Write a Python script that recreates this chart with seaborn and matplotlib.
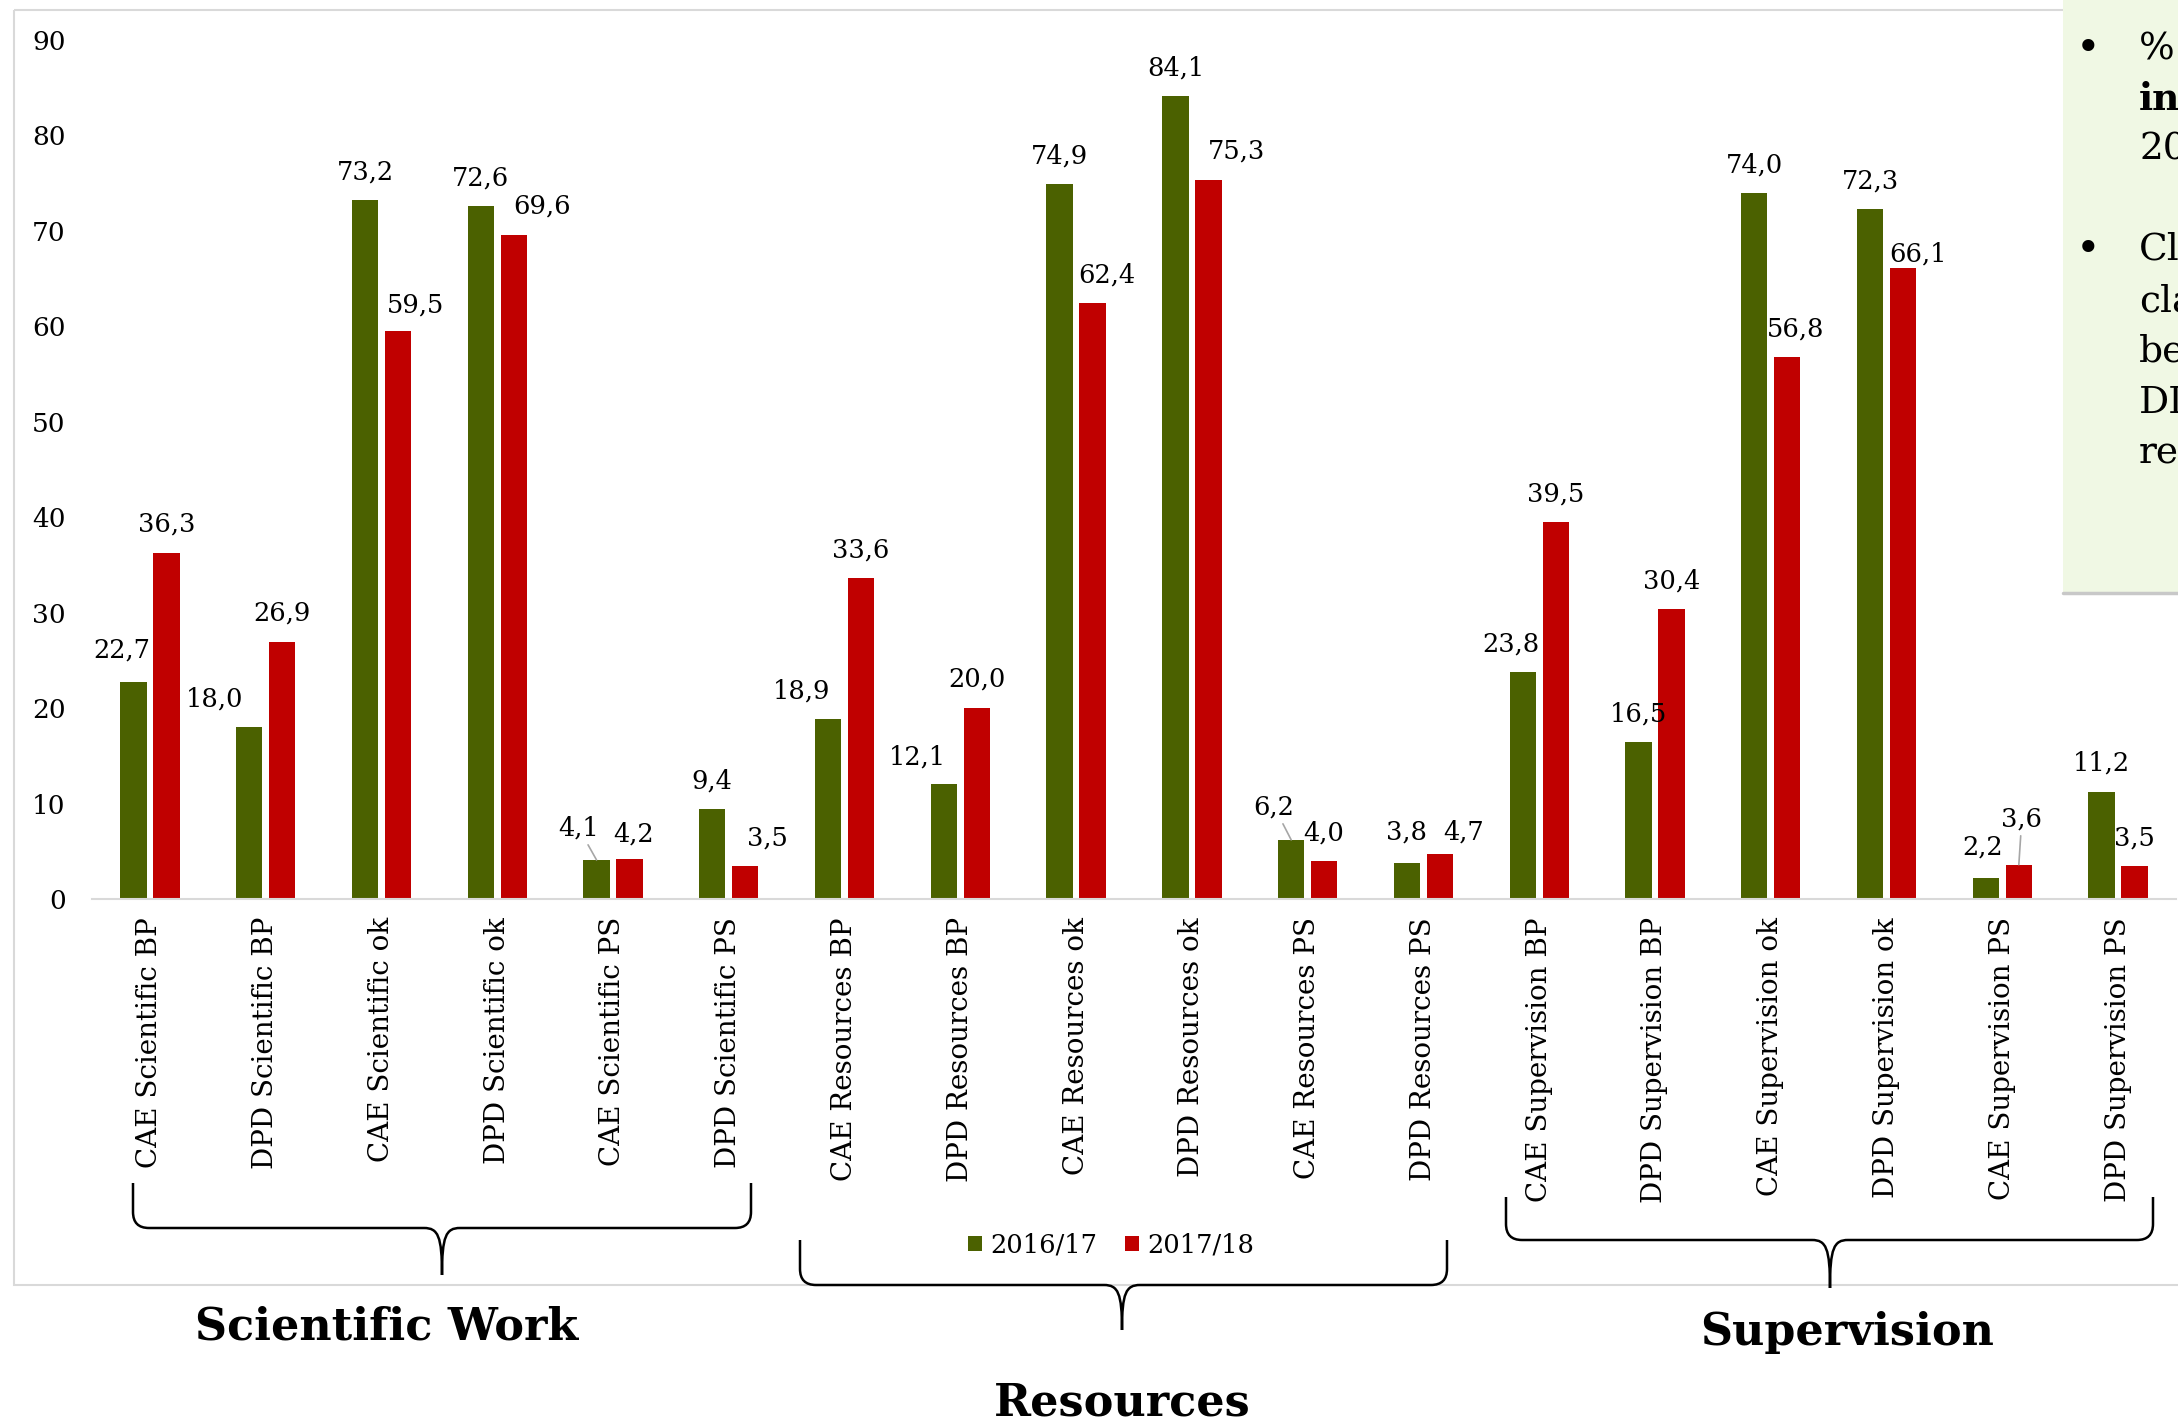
import pandas as pd
import matplotlib.pyplot as plt
import seaborn as sns
from matplotlib.path import Path
from matplotlib.patches import PathPatch, Rectangle

# chart data
categories = ['CAE Scientific BP', 'DPD Scientific BP', 'CAE Scientific ok', 'DPD Scientific ok',
              'CAE Scientific PS', 'DPD Scientific PS', 'CAE Resources BP', 'DPD Resources BP',
              'CAE Resources ok', 'DPD Resources ok', 'CAE Resources PS', 'DPD Resources PS',
              'CAE Supervision BP', 'DPD Supervision BP', 'CAE Supervision ok', 'DPD Supervision ok',
              'CAE Supervision PS', 'DPD Supervision PS']
years = ['2016/17', '2017/18']
vals_1617 = [22.7, 18.0, 73.2, 72.6, 4.1, 9.4, 18.9, 12.1, 74.9, 84.1, 6.2, 3.8,
             23.8, 16.5, 74.0, 72.3, 2.2, 11.2]
vals_1718 = [36.3, 26.9, 59.5, 69.6, 4.2, 3.5, 33.6, 20.0, 62.4, 75.3, 4.0, 4.7,
             39.5, 30.4, 56.8, 66.1, 3.6, 3.5]
groups = ['Scientific Work', 'Resources', 'Supervision']
note_lines = ['%', 'in', '20', 'Cl', 'cla', 'be', 'DI', 're']

# label nudges (pixels), as placed in the original
dx_1617 = [-12, -35, 0, 0, -18, 0, -26, -26, 0, 0, -17, 0, -12, 0, 0, 0, -3, 0]
dy_1617 = [32, 28, 28, 28, 32, 28, 28, 26, 28, 28, 33, 31, 28, 28, 28, 28, 31, 29]
dx_1718 = [0, 0, 18, 28, 4, 22, 0, 0, 14, 28, 0, 24, 0, 0, 8, 15, 3, 0]
dy_1718 = [29, 29, 26, 29, 25, 28, 28, 29, 28, 29, 28, 22, 28, 28, 28, 14, 46, 28]
leader_1617 = [4, 10]
leader_1718 = [16]

GREEN = '#4b6100'
RED = '#c00000'
W, H = 2178, 1422

df = pd.DataFrame({
    'category': categories * 2,
    'value': vals_1617 + vals_1718,
    'year': [years[0]] * len(categories) + [years[1]] * len(categories),
})

sns.set_style('white')
plt.rcParams['font.family'] = ['DejaVu Serif']
plt.rcParams['text.color'] = 'black'
plt.rcParams['xtick.color'] = 'black'
plt.rcParams['ytick.color'] = 'black'

fig = plt.figure(figsize=(W / 100, H / 100), dpi=100)
ax = fig.add_axes([92 / W, 1 - 899 / H, (2176 - 92) / W, (899 - 40) / H])

sns.barplot(data=df, x='category', y='value', hue='year', hue_order=years,
            palette=[GREEN, RED], saturation=1, width=0.57, gap=0.2, linewidth=0, ax=ax)

handles, labels = ax.get_legend_handles_labels()
ax.get_legend().remove()

ax.set_xlim(-0.5, len(categories) - 0.5)
ax.set_ylim(0, 90)
ax.set_yticks(range(0, 91, 10))
ax.set_xlabel('')
ax.set_ylabel('')
ax.tick_params(axis='y', length=0, pad=19, labelsize=19)
ax.tick_params(axis='x', length=0, pad=13, labelsize=20, labelrotation=90)
for s in ['top', 'right', 'left']:
    ax.spines[s].set_visible(False)
ax.spines['bottom'].set_color('#d9d9d9')
ax.spines['bottom'].set_linewidth(1.5)

# value labels
for cont, dxs, dys, leaders in [(ax.containers[0], dx_1617, dy_1617, leader_1617),
                                 (ax.containers[1], dx_1718, dy_1718, leader_1718)]:
    for i, bar in enumerate(cont):
        x = bar.get_x() + bar.get_width() / 2
        h = bar.get_height()
        txt = f'{h:.1f}'.replace('.', ',')
        arrow = None
        if i in leaders:
            arrow = dict(arrowstyle='-', color='#a6a6a6', lw=1.2, shrinkA=1, shrinkB=0)
        ax.annotate(txt, (x, h), xytext=(dxs[i], dys[i]), textcoords='offset pixels',
                    ha='center', va='center', fontsize=18.5, arrowprops=arrow)

# overlay in pixel coordinates for frame, braces, group labels and side note
ov = fig.add_axes([0, 0, 1, 1])
ov.set_xlim(0, W)
ov.set_ylim(H, 0)
ov.axis('off')

ov.add_patch(Rectangle((14, 10), W, 1285 - 10, fill=False, ec='#d9d9d9', lw=1.5))


def brace(x0, x1, xm, ytip, yh, ypt, r=16, c=18):
    verts = [(x0, ytip), (x0, yh - r), (x0, yh), (x0 + r, yh),
             (xm - c, yh), (xm - 4, yh), (xm, yh + 8), (xm, ypt),
             (xm, yh + 8), (xm + 4, yh), (xm + c, yh),
             (x1 - r, yh), (x1, yh), (x1, yh - r), (x1, ytip)]
    codes = [Path.MOVETO, Path.LINETO, Path.CURVE3, Path.CURVE3,
             Path.LINETO, Path.CURVE4, Path.CURVE4, Path.CURVE4,
             Path.CURVE4, Path.CURVE4, Path.CURVE4,
             Path.LINETO, Path.CURVE3, Path.CURVE3, Path.LINETO]
    ov.add_patch(PathPatch(Path(verts, codes), fill=False, ec='black', lw=1.8))


brace(133, 751, 442, 1183, 1228, 1275)
brace(800, 1447, 1122, 1240, 1285, 1330)
brace(1506, 2153, 1830, 1197, 1240, 1288)

for name, (gx, gy) in zip(groups, [(387, 1327), (1122, 1403), (1847, 1333)]):
    ov.text(gx, gy, name, ha='center', va='center', fontsize=32, fontweight='bold')

# side note box (cut off at the right edge)
ov.add_patch(Rectangle((2063, 0), 130, 594, fc='#f0f8e4', ec='none', zorder=3))
ov.plot([2063, W], [593, 593], color='#c8c8c8', lw=2.5, zorder=4)
note_y = [49, 100, 150, 250, 301, 351, 403, 453]
for line, y in zip(note_lines, note_y):
    ov.text(2139, y, line, ha='left', va='center', fontsize=27,
            fontweight='bold' if line == 'in' else 'normal', zorder=5)
for y in [49, 250]:
    ov.text(2088, y, '\u2022', ha='center', va='center', fontsize=30, zorder=5)

fig.legend(handles, labels, loc='center', bbox_to_anchor=(1111 / W, 1 - 1245 / H),
           ncol=2, frameon=False, fontsize=18.5, handlelength=0.55, handleheight=0.55,
           handletextpad=0.3, columnspacing=1.1)

fig.savefig('out.png', dpi=100)
